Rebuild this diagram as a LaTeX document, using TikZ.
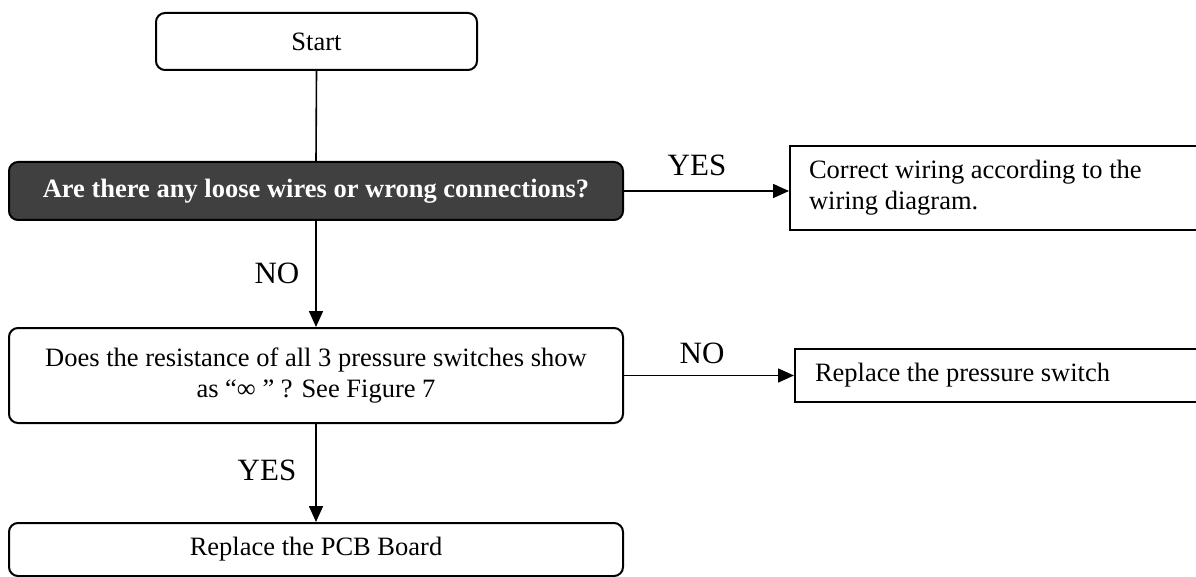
\documentclass[tikz,border=0pt]{standalone}
\usepackage{fontspec}
\setmainfont{Liberation Serif}
\usetikzlibrary{arrows.meta}
\definecolor{darkfill}{HTML}{404040}
\tikzset{
  x=1pt, y=-1pt,
  box/.style={draw=black, line width=2pt, fill=white, minimum width=#1, inner sep=0pt,
              font=\fontsize{26.5}{31}\selectfont, align=center},
  rbox/.style={box=#1, rounded corners=9pt},
  flow/.style={draw=black, line width=1.6pt, -{Triangle[length=16pt, width=14pt]}},
  plainline/.style={draw=black, line width=1.6pt},
  lbl/.style={font=\fontsize{31}{36}\selectfont, inner sep=0pt}
}
\begin{document}
\begin{tikzpicture}
\clip (0,0) rectangle (1196,577);
\fill[white] (0,0) rectangle (1196,577);

% boxes
\node[rbox=321pt, minimum height=57pt] (start) at (316.5,41.5) {Start};
\node[rbox=614pt, minimum height=58pt, fill=darkfill, text=white,
      font=\fontsize{26.5}{31}\selectfont\bfseries] (wires) at (316,191)
      {Are there any loose wires or wrong connections?};
\node[box=420pt, minimum height=84pt, text width=382pt, inner xsep=19pt, align=flush left]
      (fix) at (1000,188) {Correct wiring according to the\\wiring diagram.};
\node[rbox=614pt, minimum height=95pt] (resist) at (316,375.5)
      {Does the resistance of all 3 pressure switches show\\as “∞ ” ? See Figure 7};
\node[box=415pt, minimum height=53pt, text width=375pt, inner xsep=20pt, align=flush left]
      (switch) at (1002.5,375.5) {Replace the pressure switch};
\node[rbox=614pt, minimum height=53pt] (pcb) at (316,549.5) {Replace the PCB Board};

% connectors
\draw[plainline] (start.south) -- (wires.north);
\draw[flow] (wires.east) -- (wires.east -| fix.west);
\draw[flow] (wires.south) -- (resist.north);
\draw[flow] (resist.east) -- (resist.east -| switch.west);
\draw[flow] (resist.south) -- (pcb.north);

% branch labels
\node[lbl] (yes1) at (697,165) {YES};
\node[lbl] (no1) at (277,273) {NO};
\node[lbl] (no2) at (702,353) {NO};
\node[lbl] (yes2) at (267,470) {YES};
\end{tikzpicture}
\end{document}
